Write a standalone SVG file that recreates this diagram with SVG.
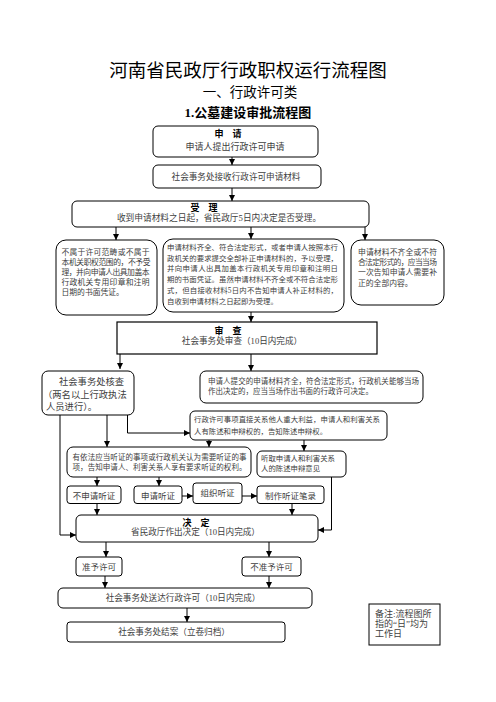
<svg xmlns="http://www.w3.org/2000/svg" width="496" height="702" viewBox="0 0 496 702">
<style>
.b{fill:#fff;stroke:#000;stroke-width:1}
.t{font-family:"Liberation Serif","Noto Sans CJK SC",serif;fill:#404040}
.c{text-anchor:middle}
.h{font-family:"Liberation Serif","Noto Sans CJK SC",serif;font-weight:bold;fill:#000;text-anchor:middle;font-size:9px}
.s8{font-size:8px}
.s74{font-size:7.4px}
.s86{font-size:8.6px}
.k{fill:none;stroke:#000;stroke-width:1}
</style>
<defs>
<marker id="ar" markerUnits="userSpaceOnUse" markerWidth="6" markerHeight="6" refX="6" refY="3" orient="auto">
<path d="M0,0 L6,3 L0,6 z" fill="#000"/>
</marker>
</defs>
<rect width="496" height="702" fill="#fff"/>
<g id="titles">
<text x="248" y="77" text-anchor="middle" font-family="Noto Sans CJK SC, sans-serif" font-size="18.5" fill="#000">河南省民政厅行政职权运行流程图</text>
<text x="250" y="96.5" text-anchor="middle" font-family="Noto Sans CJK SC, sans-serif" font-size="13.5" fill="#000">一、行政许可类</text>
<text x="248" y="116.5" text-anchor="middle" font-family="Liberation Serif, Noto Sans CJK SC, serif" font-size="13" font-weight="bold" fill="#000">1.公墓建设审批流程图</text>
</g>
<g id="connectors">
<line class="k" x1="232" y1="157" x2="232" y2="165" marker-end="url(#ar)"/>
<line class="k" x1="232" y1="188" x2="232" y2="201" marker-end="url(#ar)"/>
<line class="k" x1="116" y1="227" x2="116" y2="240" marker-end="url(#ar)"/>
<line class="k" x1="251" y1="227" x2="251" y2="239" marker-end="url(#ar)"/>
<line class="k" x1="365" y1="227" x2="365" y2="240" marker-end="url(#ar)"/>
<line class="k" x1="251" y1="312" x2="251" y2="322" marker-end="url(#ar)"/>
<line class="k" x1="120" y1="354" x2="120" y2="369" marker-end="url(#ar)"/>
<line class="k" x1="251" y1="354" x2="251" y2="371" marker-end="url(#ar)"/>
<polyline class="k" points="127.5,415 127.5,433 190,433" marker-end="url(#ar)"/>
<line class="k" x1="107" y1="415" x2="107" y2="447" marker-end="url(#ar)"/>
<polyline class="k" points="60,415 60,535 76,535" marker-end="url(#ar)"/>
<line class="k" x1="209" y1="440" x2="209" y2="447" marker-end="url(#ar)"/>
<line class="k" x1="304" y1="440" x2="304" y2="451" marker-end="url(#ar)"/>
<polyline class="k" points="331.5,477 331.5,530 318,530" marker-end="url(#ar)"/>
<line class="k" x1="97" y1="477" x2="97" y2="486" marker-end="url(#ar)"/>
<line class="k" x1="159" y1="477" x2="159" y2="486" marker-end="url(#ar)"/>
<line class="k" x1="182" y1="496" x2="193" y2="496" marker-end="url(#ar)"/>
<line class="k" x1="242" y1="496" x2="257" y2="496" marker-end="url(#ar)"/>
<line class="k" x1="97" y1="503.5" x2="97" y2="515" marker-end="url(#ar)"/>
<line class="k" x1="292" y1="503.5" x2="292" y2="515" marker-end="url(#ar)"/>
<line class="k" x1="106" y1="542" x2="106" y2="557" marker-end="url(#ar)"/>
<line class="k" x1="269" y1="542" x2="269" y2="557" marker-end="url(#ar)"/>
<line class="k" x1="105" y1="576" x2="105" y2="588" marker-end="url(#ar)"/>
<line class="k" x1="269" y1="576" x2="269" y2="588" marker-end="url(#ar)"/>
<line class="k" x1="187" y1="608" x2="187" y2="622" marker-end="url(#ar)"/>
</g>
<g id="apply">
<rect class="b" x="153" y="126" width="165" height="31" rx="5"/>
<text class="h" x="228" y="136.5">申　请</text>
<text class="t c" x="235" y="150" font-size="9">申请人提出行政许可申请</text>
</g>
<g id="receive">
<rect class="b" x="153" y="165" width="168" height="23" rx="5"/>
<text class="t c s86" x="236" y="179.5">社会事务处接收行政许可申请材料</text>
</g>
<g id="accept">
<rect class="b" x="72" y="201" width="297" height="26" rx="5"/>
<text class="h" x="204" y="210.5">受　理</text>
<text class="t c" x="219" y="221" font-size="8.7">收到申请材料之日起，省民政厅5日内决定是否受理。</text>
</g>
<g id="reject">
<rect class="b" x="56" y="240" width="101" height="75" rx="10"/>
<text class="t" font-size="7.8"><tspan x="61.5" y="254.5" textLength="88">不属于许可范畴或不属于</tspan><tspan x="61.5" y="264.5" textLength="89">本机关职权范围的，不予受</tspan><tspan x="61.5" y="274.5" textLength="88">理，并向申请人出具加盖本</tspan><tspan x="61.5" y="284.5" textLength="88">行政机关专用印章和注明</tspan><tspan x="61.5" y="294.5">日期的书面凭证。</tspan></text>
</g>
<g id="accepted">
<rect class="b" x="163" y="239" width="181" height="73" rx="10"/>
<text class="t s74"><tspan x="167" y="250" textLength="171">申请材料齐全、符合法定形式，或者申请人按照本行</tspan><tspan x="167" y="260.7" textLength="171">政机关的要求提交全部补正申请材料的，予以受理，</tspan><tspan x="167" y="271.4" textLength="171">并向申请人出具加盖本行政机关专用印章和注明日</tspan><tspan x="167" y="282.1" textLength="171">期的书面凭证。虽然申请材料不齐全或不符合法定形</tspan><tspan x="167" y="292.8" textLength="171">式，但自接收材料5日内不告知申请人补正材料的，</tspan><tspan x="167" y="303.5">自收到申请材料之日起即为受理。</tspan></text>
</g>
<g id="incomplete">
<rect class="b" x="351" y="240" width="93" height="65" rx="10"/>
<text class="t" font-size="7.8"><tspan x="358" y="254.5" textLength="79">申请材料不齐全或不符</tspan><tspan x="358" y="265" textLength="79">合法定形式的，应当当场</tspan><tspan x="358" y="275.4" textLength="79">一次告知申请人需要补</tspan><tspan x="358" y="286">正的全部内容。</tspan></text>
</g>
<g id="review">
<rect class="b" x="117" y="322" width="260" height="32" style="stroke-width:1.2"/>
<text class="h" x="228" y="334">审　查</text>
<text class="t c s86" x="242" y="343.5">社会事务处审查（10日内完成）</text>
</g>
<g id="verify">
<rect class="b" x="42" y="371" width="92" height="44" rx="6"/>
<text class="t" font-size="9.3"><tspan x="59" y="385">社会事务处核查</tspan><tspan x="43" y="397.5">（两名以上行政执法</tspan><tspan x="46" y="410">人员进行）。</tspan></text>
</g>
<g id="onsite">
<rect class="b" x="200" y="371" width="223" height="32" rx="6"/>
<text class="t" font-size="7.5"><tspan x="208" y="383.5" textLength="211">申请人提交的申请材料齐全，符合法定形式，行政机关能够当场</tspan><tspan x="208" y="393.5">作出决定的，应当当场作出书面的行政许可决定。</tspan></text>
</g>
<g id="interest">
<rect class="b" x="190" y="411" width="197" height="29" rx="5"/>
<text class="t s74"><tspan x="194" y="421.7" textLength="186">行政许可事项直接关系他人重大利益，申请人和利害关系</tspan><tspan x="194" y="433.5">人有陈述和申辩权的，告知陈述申辩权。</tspan></text>
</g>
<g id="hearing">
<rect class="b" x="67" y="447" width="184" height="30" rx="6"/>
<text class="t" font-size="7.5"><tspan x="72.5" y="460" textLength="174">有依法应当听证的事项或行政机关认为需要听证的事</tspan><tspan x="72.5" y="470" textLength="174">项，告知申请人、利害关系人享有要求听证的权利。</tspan></text>
</g>
<g id="listen">
<rect class="b" x="257" y="451" width="89" height="26" rx="5"/>
<text class="t s74"><tspan x="261" y="461">听取申请人和利害关系</tspan><tspan x="261" y="471">人的陈述申辩意见</tspan></text>
</g>
<g id="nohearing">
<rect class="b" x="67" y="486" width="54" height="17.5" rx="3"/>
<text class="t c" x="94" y="498.5" font-size="8.5">不申请听证</text>
</g>
<g id="reqhearing">
<rect class="b" x="134" y="486" width="48" height="17.5" rx="3"/>
<text class="t c" x="158" y="498.5" font-size="8.5">申请听证</text>
</g>
<g id="orghearing">
<rect class="b" x="193" y="483" width="49" height="20.5" rx="3"/>
<text class="t c" x="217.5" y="496.3" font-size="8.5">组织听证</text>
</g>
<g id="record">
<rect class="b" x="257" y="486" width="67" height="17.5" rx="3"/>
<text class="t c" x="290.5" y="498.5" font-size="8.5">制作听证笔录</text>
</g>
<g id="decide">
<rect class="b" x="76" y="515" width="242" height="27" rx="5"/>
<text class="h" x="196" y="525.5">决　定</text>
<text class="t c s86" x="195.5" y="535">省民政厅作出决定（10日内完成）</text>
</g>
<g id="grant">
<rect class="b" x="76" y="557" width="46" height="19" rx="3"/>
<text class="t c" x="99" y="569.8" font-size="8.5">准予许可</text>
</g>
<g id="deny">
<rect class="b" x="242" y="557" width="59" height="19" rx="3"/>
<text class="t c" x="271.5" y="569.8" font-size="8.5">不准予许可</text>
</g>
<g id="deliver">
<rect class="b" x="58" y="588" width="254" height="20" rx="5"/>
<text class="t c s86" x="183" y="600.8">社会事务处送达行政许可（10日内完成）</text>
</g>
<g id="close">
<rect class="b" x="67" y="622" width="218" height="20" rx="3"/>
<text class="t c s86" x="174" y="635">社会事务处结案（立卷归档）</text>
</g>
<g id="note">
<rect class="b" x="369" y="604" width="71" height="41"/>
<text class="t" font-size="9" fill="#222"><tspan x="375" y="616.5">备注:流程图所</tspan><tspan x="375" y="626.5">指的“日”均为</tspan><tspan x="375" y="636.5">工作日</tspan></text>
</g>
</svg>
